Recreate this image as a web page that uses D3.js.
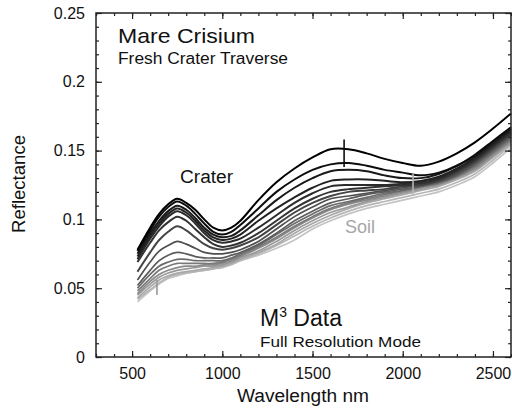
<!DOCTYPE html>
<html><head><meta charset="utf-8">
<script src="https://cdn.jsdelivr.net/npm/d3@7"></script>
<style>html,body{margin:0;padding:0;background:#fff}svg{display:block;font-family:"Liberation Sans",Arial,sans-serif}</style>
</head><body>
<svg id="c" width="512" height="409"></svg>
<script>
const wavelengths = [530,600,650,700,750,800,850,900,950,1000,1050,1100,1200,1300,1400,1500,1600,1700,1800,1900,2000,2100,2200,2300,2400,2500,2600];
const s0  = [0.078,0.094,0.104,0.111,0.115,0.112,0.107,0.100,0.094,0.092,0.094,0.099,0.114,0.127,0.137,0.145,0.151,0.151,0.148,0.144,0.141,0.139,0.142,0.148,0.156,0.166,0.177];
const s1  = [0.077,0.092,0.102,0.109,0.113,0.110,0.104,0.097,0.091,0.089,0.091,0.096,0.108,0.120,0.129,0.136,0.140,0.141,0.139,0.136,0.134,0.132,0.134,0.139,0.147,0.157,0.167];
const s2  = [0.075,0.090,0.099,0.106,0.110,0.107,0.101,0.094,0.089,0.087,0.088,0.092,0.103,0.114,0.123,0.130,0.135,0.136,0.135,0.132,0.130,0.130,0.133,0.139,0.146,0.156,0.166];
const s3  = [0.073,0.088,0.097,0.104,0.108,0.105,0.099,0.092,0.087,0.085,0.086,0.089,0.099,0.108,0.116,0.123,0.128,0.129,0.129,0.128,0.127,0.128,0.131,0.137,0.145,0.155,0.165];
const s4  = [0.071,0.086,0.095,0.102,0.106,0.103,0.097,0.090,0.085,0.083,0.084,0.086,0.094,0.103,0.112,0.119,0.124,0.125,0.125,0.125,0.126,0.127,0.130,0.136,0.144,0.154,0.164];
const s5  = [0.069,0.083,0.092,0.098,0.102,0.099,0.093,0.087,0.082,0.080,0.081,0.083,0.090,0.099,0.108,0.115,0.120,0.122,0.123,0.124,0.125,0.126,0.129,0.135,0.143,0.153,0.163];
const s6  = [0.062,0.076,0.085,0.091,0.095,0.092,0.087,0.082,0.079,0.078,0.079,0.081,0.087,0.096,0.105,0.112,0.117,0.120,0.121,0.122,0.124,0.125,0.128,0.134,0.142,0.152,0.162];
const s7  = [0.056,0.069,0.077,0.081,0.084,0.082,0.079,0.076,0.075,0.075,0.076,0.078,0.084,0.093,0.102,0.109,0.115,0.117,0.119,0.121,0.123,0.125,0.128,0.133,0.141,0.151,0.161];
const s8  = [0.052,0.063,0.070,0.074,0.076,0.075,0.073,0.072,0.072,0.072,0.074,0.076,0.082,0.090,0.099,0.106,0.112,0.115,0.118,0.120,0.122,0.124,0.127,0.132,0.140,0.150,0.160];
const s9  = [0.050,0.060,0.066,0.069,0.071,0.071,0.070,0.070,0.070,0.070,0.072,0.075,0.081,0.089,0.097,0.104,0.110,0.113,0.116,0.119,0.121,0.124,0.127,0.132,0.139,0.149,0.159];
const s10 = [0.048,0.057,0.063,0.066,0.068,0.068,0.068,0.068,0.068,0.069,0.071,0.074,0.080,0.087,0.095,0.102,0.108,0.112,0.115,0.118,0.121,0.124,0.126,0.131,0.138,0.148,0.158];
const s11 = [0.046,0.055,0.060,0.063,0.065,0.066,0.066,0.067,0.067,0.068,0.070,0.073,0.079,0.086,0.094,0.101,0.107,0.111,0.114,0.117,0.120,0.123,0.126,0.131,0.137,0.147,0.157];
const s12 = [0.045,0.053,0.058,0.061,0.063,0.064,0.065,0.066,0.066,0.067,0.069,0.072,0.077,0.084,0.092,0.099,0.105,0.109,0.113,0.116,0.119,0.122,0.125,0.130,0.136,0.146,0.156];
const s13 = [0.043,0.051,0.056,0.059,0.061,0.062,0.063,0.064,0.065,0.066,0.068,0.071,0.076,0.082,0.090,0.097,0.103,0.108,0.112,0.115,0.118,0.121,0.124,0.129,0.135,0.145,0.155];
const s14 = [0.042,0.049,0.054,0.058,0.060,0.061,0.062,0.063,0.064,0.065,0.067,0.070,0.075,0.081,0.088,0.095,0.101,0.106,0.110,0.113,0.116,0.119,0.122,0.127,0.133,0.143,0.154];
const s15 = [0.040,0.048,0.053,0.057,0.059,0.061,0.062,0.063,0.064,0.066,0.068,0.070,0.074,0.079,0.085,0.093,0.099,0.104,0.108,0.111,0.114,0.117,0.120,0.125,0.131,0.141,0.152];
const seriesList = [s0,s1,s2,s3,s4,s5,s6,s7,s8,s9,s10,s11,s12,s13,s14,s15];
const seriesColors = ["#000","#0d0d0d","#1a1a1a","#222","#2b2b2b","#333","#444","#4f4f4f","#5c5c5c","#6b6b6b","#7a7a7a","#8a8a8a","#999","#a8a8a8","#b6b6b6","#c4c4c4"];
// vertical spikes: wavelength, from, to, series index
const spikeW = [1675, 2057, 638];
const spikeLo = [0.138, 0.118, 0.045];
const spikeHi = [0.158, 0.133, 0.056];
const spikeSeries = [1, 14, 12];
const xMajor = [500,1000,1500,2000,2500];
const yMajor = [0,0.05,0.1,0.15,0.2,0.25];

const svg = d3.select("#c");
const x = d3.scaleLinear().domain([300,2600]).range([96,511]);
const y = d3.scaleLinear().domain([0,0.25]).range([357,13]);
const X0=96, X1=511, Y0=357, Y1=13;

const line = d3.line().x((d,i)=>x(wavelengths[i])).y(d=>y(d)).curve(d3.curveCatmullRom.alpha(0.5));
const g = svg.append("g");
for (let k = seriesList.length-1; k >= 0; k--) {
  g.append("path").attr("d", line(seriesList[k])).attr("fill","none")
   .attr("stroke", seriesColors[k]).attr("stroke-width", k < 7 ? 2 : 1.7).attr("stroke-linejoin","round");
}
spikeW.forEach((w,i)=>{
  g.append("line").attr("x1",x(w)).attr("x2",x(w)).attr("y1",y(spikeLo[i])).attr("y2",y(spikeHi[i]))
   .attr("stroke",seriesColors[spikeSeries[i]]).attr("stroke-width",1.6);
});

const minorX = d3.range(300,2601,100);
const minorY = d3.range(0,0.2501,0.01);
const axStroke = "#222";
function styleAxis(sel){ sel.select(".domain").remove(); sel.selectAll("line").attr("stroke",axStroke).attr("stroke-width",1.2); }
svg.append("g").attr("transform",`translate(0,${Y0})`).call(d3.axisBottom(x).tickValues(minorX).tickSize(-3).tickFormat("")).call(styleAxis);
svg.append("g").attr("transform",`translate(0,${Y1})`).call(d3.axisTop(x).tickValues(minorX).tickSize(-3).tickFormat("")).call(styleAxis);
svg.append("g").attr("transform",`translate(${X0},0)`).call(d3.axisLeft(y).tickValues(minorY).tickSize(-3).tickFormat("")).call(styleAxis);
svg.append("g").attr("transform",`translate(${X1},0)`).call(d3.axisRight(y).tickValues(minorY).tickSize(-3).tickFormat("")).call(styleAxis);

const fmtY = d => d===0 ? "0" : String(+d.toFixed(2));
const bx = svg.append("g").attr("transform",`translate(0,${Y0})`).call(d3.axisBottom(x).tickValues(xMajor).tickSize(-6).tickPadding(11).tickFormat(d3.format("d"))).call(styleAxis);
svg.append("g").attr("transform",`translate(0,${Y1})`).call(d3.axisTop(x).tickValues(xMajor).tickSize(-6).tickFormat("")).call(styleAxis);
const ly = svg.append("g").attr("transform",`translate(${X0},0)`).call(d3.axisLeft(y).tickValues(yMajor).tickSize(-6).tickPadding(11).tickFormat(fmtY)).call(styleAxis);
svg.append("g").attr("transform",`translate(${X1},0)`).call(d3.axisRight(y).tickValues(yMajor).tickSize(-6).tickFormat("")).call(styleAxis);
[bx,ly].forEach(a=>a.selectAll("text").attr("font-size",16).attr("fill","#111").attr("font-family",'"Liberation Sans",Arial,sans-serif'));

svg.append("rect").attr("x",X0).attr("y",Y1).attr("width",X1-X0).attr("height",Y0-Y1)
  .attr("fill","none").attr("stroke",axStroke).attr("stroke-width",1.5);

function txt(s,xx,yy,size,len,fill){
  const t = svg.append("text").attr("x",xx).attr("y",yy).attr("font-size",size).attr("fill",fill||"#111").text(s);
  if(len) t.attr("textLength",len).attr("lengthAdjust","spacingAndGlyphs");
  return t;
}
txt("Mare Crisium",118,43,21,137);
txt("Fresh Crater Traverse",118,64,16,170);
txt("Crater",180,183,18,53);
txt("Soil",345,233,18,30,"#a6a6a6");
const m3 = svg.append("text").attr("x",260).attr("y",326).attr("font-size",23).attr("fill","#111");
m3.append("tspan").text("M");
m3.append("tspan").attr("font-size",14).attr("dy",-9).text("3");
m3.append("tspan").attr("dy",9).text(" Data");
txt("Full Resolution Mode",260,347,15,161);
txt("Wavelength nm",237,402,18,132);
svg.append("text").attr("transform","translate(25,233) rotate(-90)").attr("font-size",18).attr("fill","#111")
  .attr("textLength",98).attr("lengthAdjust","spacingAndGlyphs").text("Reflectance");
</script>
</body></html>
